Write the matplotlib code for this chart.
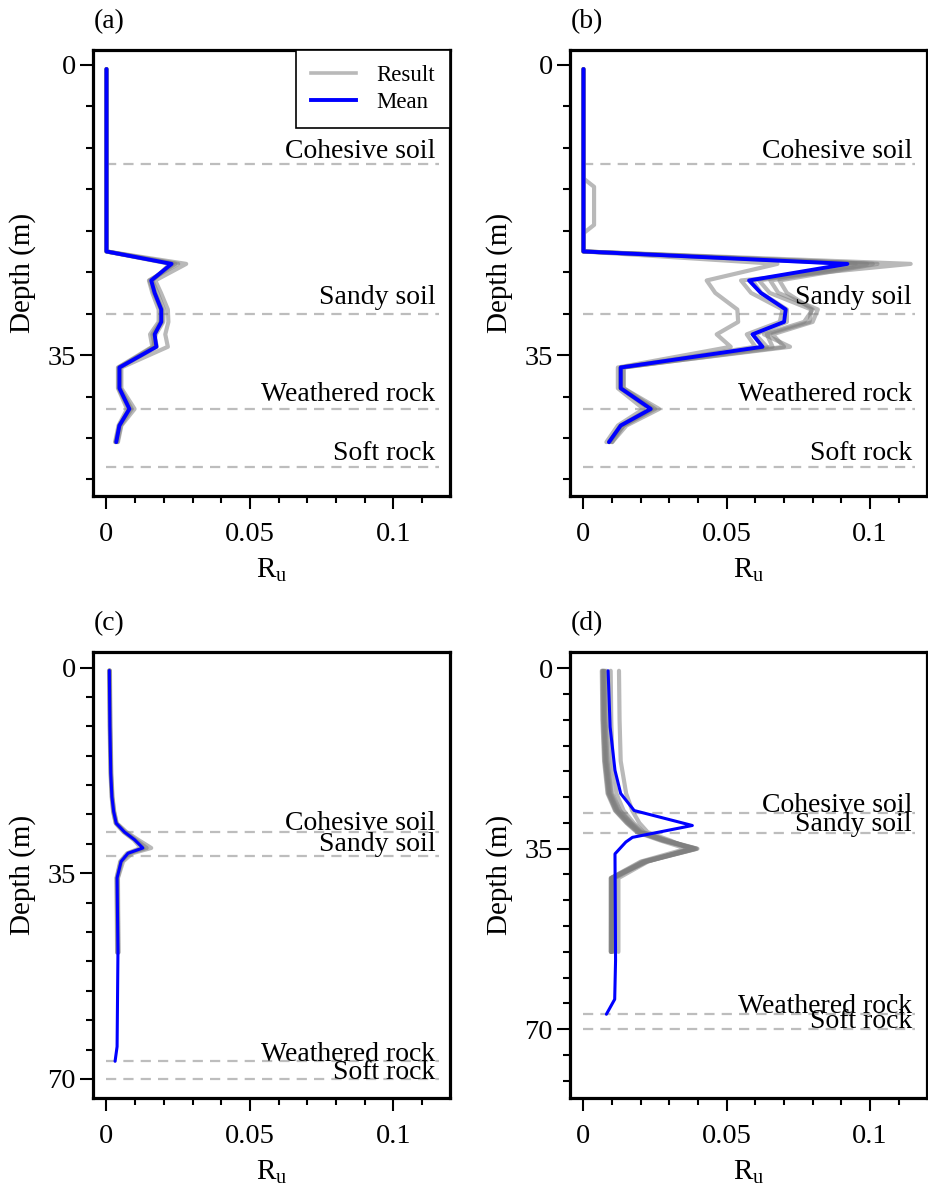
import matplotlib
matplotlib.use('Agg')
import matplotlib.pyplot as plt
from matplotlib.ticker import MultipleLocator, FixedLocator, FixedFormatter
from matplotlib.lines import Line2D

plt.rcParams['font.family'] = ['Liberation Serif', 'DejaVu Serif']
plt.rcParams['mathtext.fontset'] = 'custom'
plt.rcParams['mathtext.rm'] = 'Liberation Serif'
plt.rcParams['mathtext.it'] = 'Liberation Serif:italic'

# ---------------- data ----------------
# Panels (a), (b): common depth grid (m)
depth_ab = [0.5, 13.7, 14.7, 19.3, 20.3, 22.5, 24, 26, 27.5, 29.5, 31, 32.5, 34, 36.5, 39, 41.5, 43.5, 45.5]

res_a = [
    [0, 0, 0, 0, 0, 0, 0.0278, 0.0170, 0.0190, 0.0214, 0.0216, 0.0205, 0.0214, 0.0052, 0.0052, 0.0098, 0.0052, 0.0040],
    [0, 0, 0, 0, 0, 0, 0.0240, 0.0150, 0.0165, 0.0190, 0.0188, 0.0160, 0.0168, 0.0042, 0.0042, 0.0078, 0.0046, 0.0032],
    [0, 0, 0, 0, 0, 0, 0.0222, 0.0160, 0.0178, 0.0200, 0.0198, 0.0172, 0.0162, 0.0048, 0.0048, 0.0088, 0.0050, 0.0038],
    [0, 0, 0, 0, 0, 0, 0.0250, 0.0148, 0.0160, 0.0182, 0.0182, 0.0152, 0.0160, 0.0040, 0.0040, 0.0072, 0.0042, 0.0030],
    [0, 0, 0, 0, 0, 0, 0.0232, 0.0158, 0.0170, 0.0194, 0.0194, 0.0165, 0.0176, 0.0046, 0.0046, 0.0082, 0.0044, 0.0034],
]
mean_a = [0, 0, 0, 0, 0, 0, 0.0227, 0.0156, 0.0168, 0.0191, 0.0191, 0.0168, 0.0174, 0.0045, 0.0045, 0.0080, 0.0045, 0.0034]

res_b = [
    [0, 0, 0, 0, 0, 0, 0.0677, 0.0430, 0.0460, 0.0537, 0.0540, 0.0465, 0.0514, 0.0120, 0.0120, 0.0210, 0.0120, 0.0080],
    [0, 0, 0.0037, 0.0037, 0, 0, 0.1142, 0.0550, 0.0585, 0.0695, 0.0685, 0.0570, 0.0600, 0.0130, 0.0130, 0.0240, 0.0130, 0.0090],
    [0, 0, 0, 0, 0, 0, 0.0990, 0.0613, 0.0650, 0.0795, 0.0789, 0.0640, 0.0660, 0.0140, 0.0140, 0.0250, 0.0140, 0.0090],
    [0, 0, 0, 0, 0, 0, 0.1010, 0.0652, 0.0680, 0.0818, 0.0800, 0.0660, 0.0700, 0.0140, 0.0140, 0.0264, 0.0150, 0.0100],
    [0, 0, 0, 0, 0, 0, 0.1026, 0.0684, 0.0710, 0.0800, 0.0770, 0.0630, 0.0721, 0.0130, 0.0130, 0.0240, 0.0140, 0.0100],
    [0, 0, 0, 0, 0, 0, 0.0950, 0.0590, 0.0620, 0.0710, 0.0710, 0.0600, 0.0640, 0.0130, 0.0130, 0.0230, 0.0130, 0.0090],
]
mean_b = [0, 0, 0, 0, 0, 0, 0.0921, 0.0578, 0.0619, 0.0706, 0.0700, 0.0590, 0.0625, 0.0130, 0.0130, 0.0235, 0.0130, 0.0089]

# Panel (c)
depth_c_res = [0.5, 10, 18, 22, 24.5, 26.5, 28, 29.3, 30.7, 31.6, 33, 35.8, 48.5]
res_c = [
    [0.0012, 0.0014, 0.0017, 0.0021, 0.0027, 0.0036, 0.0070, 0.0110, 0.0156, 0.0090, 0.0058, 0.0040, 0.0042],
    [0.0009, 0.0011, 0.0014, 0.0018, 0.0023, 0.0032, 0.0060, 0.0095, 0.0120, 0.0072, 0.0048, 0.0035, 0.0037],
    [0.0011, 0.0013, 0.0016, 0.0020, 0.0026, 0.0035, 0.0066, 0.0102, 0.0140, 0.0080, 0.0053, 0.0039, 0.0041],
    [0.0010, 0.0012, 0.0015, 0.0019, 0.0024, 0.0033, 0.0062, 0.0098, 0.0130, 0.0076, 0.0050, 0.0036, 0.0038],
]
depth_c_mean = [0.5, 10, 18, 22, 24.5, 26.5, 28, 29.3, 30.7, 31.6, 33, 35.8, 48.5, 64.5, 67]
mean_c = [0.0010, 0.0012, 0.0015, 0.0019, 0.0025, 0.0034, 0.0063, 0.0098, 0.0127, 0.0075, 0.0051, 0.0037, 0.0040, 0.0037, 0.0030]

# Panel (d)
depth_d_res = [0.5, 10, 18, 24.3, 27.6, 30, 31.8, 33.4, 35, 37.5, 40.7, 55]
res_d = [
    [0.0064, 0.0066, 0.0072, 0.0084, 0.0110, 0.0150, 0.0186, 0.0268, 0.0360, 0.0200, 0.0095, 0.0095],
    [0.0070, 0.0072, 0.0078, 0.0090, 0.0118, 0.0158, 0.0195, 0.0280, 0.0390, 0.0215, 0.0098, 0.0097],
    [0.0075, 0.0077, 0.0084, 0.0097, 0.0125, 0.0165, 0.0200, 0.0290, 0.0398, 0.0220, 0.0100, 0.0100],
    [0.0095, 0.0097, 0.0101, 0.0115, 0.0140, 0.0175, 0.0210, 0.0295, 0.0385, 0.0210, 0.0105, 0.0105],
    [0.0124, 0.0126, 0.0130, 0.0149, 0.0170, 0.0195, 0.0224, 0.0303, 0.0370, 0.0225, 0.0122, 0.0122],
    [0.0068, 0.0070, 0.0075, 0.0088, 0.0112, 0.0152, 0.0190, 0.0275, 0.0380, 0.0205, 0.0097, 0.0096],
    [0.0080, 0.0082, 0.0088, 0.0100, 0.0128, 0.0168, 0.0205, 0.0285, 0.0395, 0.0218, 0.0110, 0.0110],
    [0.0066, 0.0068, 0.0074, 0.0086, 0.0114, 0.0155, 0.0192, 0.0278, 0.0388, 0.0212, 0.0096, 0.0096],
    [0.0072, 0.0074, 0.0080, 0.0093, 0.0120, 0.0160, 0.0198, 0.0286, 0.0394, 0.0222, 0.0099, 0.0099],
]
depth_d_mean = [0.5, 11.4, 19.8, 24.3, 27.6, 30.5, 32.8, 33.7, 36, 56.7, 64.2, 67.1]
mean_d = [0.0086, 0.0093, 0.0110, 0.0130, 0.0177, 0.0380, 0.0171, 0.0148, 0.0110, 0.0112, 0.0109, 0.0080]

layer_names = ["Cohesive soil", "Sandy soil", "Weathered rock", "Soft rock"]
layer_depth_ab = [12, 30, 41.5, 48.5]
label_depth_ab = [11.2, 28.8, 40.6, 47.6]
layer_depth_cd = [28, 32, 67, 70]
label_depth_c = [27.7, 31.3, 66.9, 70.1]
label_depth_d = [27.8, 31.5, 66.8, 69.7]

x_ticks = [0, 0.05, 0.1]
x_ticklabels = ["0", "0.05", "0.1"]
y_ticks_ab = [0, 35]
y_ticks_cd = [0, 35, 70]

# ---------------- figure ----------------
W, H = 929, 1190
fig = plt.figure(figsize=(W / 100, H / 100), dpi=100)

def rect(l, t, r, b):
    return [l / W, 1 - b / H, (r - l) / W, (b - t) / H]

FS = 20.5
GRAY = '#808080'
BLUE = '#0000ff'


def panel(ax, depth_res, results, depth_mean, mean, layer_depths, label_depths,
          ylim, yticks, blue_lw):
    for d in layer_depths:
        ax.plot([0, 0.1158], [d, d], color='#bdbdbd', lw=1.6, dashes=(4.6, 3.2), zorder=1)
    for name, d in zip(layer_names, label_depths):
        ax.text(0.1147, d, name, ha='right', va='baseline', fontsize=20, zorder=5)
    for r in results:
        ax.plot(r, depth_res, color=GRAY, alpha=0.55, lw=3.0, solid_capstyle='round',
                solid_joinstyle='round', zorder=2)
    ax.plot(mean, depth_mean, color=BLUE, lw=blue_lw, solid_capstyle='round',
            solid_joinstyle='round', zorder=3)
    ax.set_xlim(-0.0047, 0.1198)
    ax.set_ylim(ylim)
    ax.xaxis.set_major_locator(FixedLocator(x_ticks))
    ax.xaxis.set_major_formatter(FixedFormatter(x_ticklabels))
    ax.xaxis.set_minor_locator(MultipleLocator(0.01))
    ax.yaxis.set_major_locator(FixedLocator(yticks))
    ax.yaxis.set_minor_locator(MultipleLocator(5))
    ax.tick_params(which='major', length=9.5, width=1.5, labelsize=FS, direction='out')
    ax.tick_params(which='minor', length=5.2, width=1.5, direction='out')
    ax.tick_params(axis='x', which='major', pad=9)
    ax.tick_params(axis='y', which='major', pad=3)
    for s in ax.spines.values():
        s.set_linewidth(2.3)
    ax.set_xlabel(r'R$_{\mathrm{u}}$', fontsize=21, labelpad=7)
    ax.set_ylabel('Depth (m)', fontsize=21, labelpad=8)


ax_a = fig.add_axes(rect(93, 50, 450, 496))
ax_b = fig.add_axes(rect(570, 50, 926.7, 496))
ax_c = fig.add_axes(rect(93, 651.7, 450, 1098.3))
ax_d = fig.add_axes(rect(570, 651.7, 926.7, 1098.3))

panel(ax_a, depth_ab, res_a, depth_ab, mean_a, layer_depth_ab, label_depth_ab, (52, -1.8), y_ticks_ab, 2.8)
panel(ax_b, depth_ab, res_b, depth_ab, mean_b, layer_depth_ab, label_depth_ab, (52, -1.8), y_ticks_ab, 2.8)
panel(ax_c, depth_c_res, res_c, depth_c_mean, mean_c, layer_depth_cd, label_depth_c, (73.3, -2.7), y_ticks_cd, 2.2)
panel(ax_d, depth_d_res, res_d, depth_d_mean, mean_d, layer_depth_cd, label_depth_d, (83.4, -3.2), y_ticks_cd, 2.2)

# legend in (a)
handles = [Line2D([], [], color=GRAY, alpha=0.55, lw=2.6),
           Line2D([], [], color=BLUE, lw=2.8)]
leg = ax_a.legend(handles, ['Result', 'Mean'], loc='upper right', bbox_to_anchor=(1, 1),
                  borderaxespad=0, fontsize=16.5, frameon=True, fancybox=False,
                  edgecolor='black', framealpha=1, handlelength=1.95, handletextpad=0.9,
                  borderpad=0.65, labelspacing=0.28)
leg.get_frame().set_linewidth(1.2)

# panel labels
for lab, x, y in [('(a)', 94, 28), ('(b)', 571, 28), ('(c)', 94, 630), ('(d)', 571, 630)]:
    fig.text(x / W, 1 - y / H, lab, fontsize=20, ha='left', va='baseline')

fig.savefig('out.png', dpi=100)
